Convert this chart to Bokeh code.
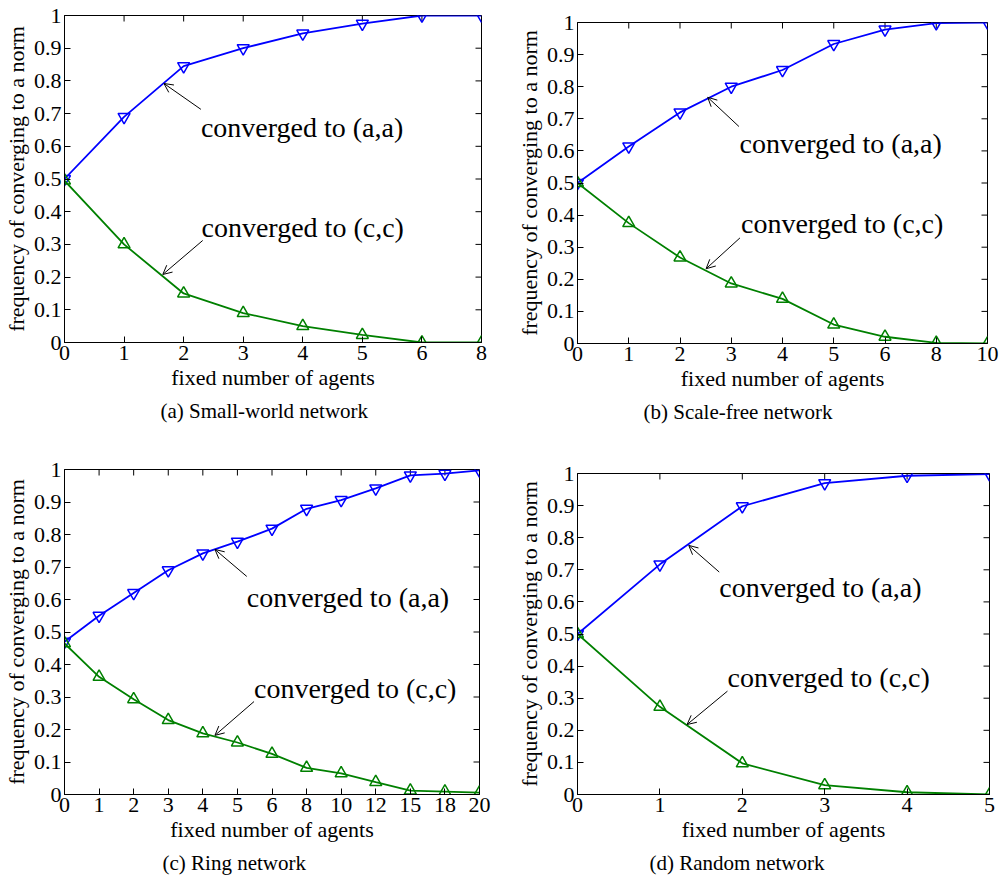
import math
from bokeh.plotting import figure
from bokeh.layouts import column, row
from bokeh.models import Range1d, FixedTicker, Arrow, OpenHead, Label, Title
from bokeh.embed import file_html
from bokeh.resources import INLINE

# ---------------- data ----------------
agents_a = ["0", "1", "2", "3", "4", "5", "6", "8"]
aa_a = [0.50, 0.69, 0.845, 0.90, 0.945, 0.975, 1.0, 1.0]
cc_a = [0.495, 0.30, 0.15, 0.09, 0.05, 0.023, 0.0, 0.0]

agents_b = ["0", "1", "2", "3", "4", "5", "6", "8", "10"]
aa_b = [0.50, 0.614, 0.72, 0.80, 0.852, 0.933, 0.978, 0.998, 1.0]
cc_b = [0.50, 0.375, 0.268, 0.187, 0.139, 0.059, 0.021, 0.002, 0.0]

agents_c = ["0", "1", "2", "3", "4", "5", "6", "8", "10", "12", "15", "18", "20"]
aa_c = [0.47, 0.55, 0.62, 0.69, 0.742, 0.778, 0.818, 0.879, 0.906, 0.942, 0.982, 0.987, 0.997]
cc_c = [0.465, 0.362, 0.293, 0.229, 0.188, 0.16, 0.125, 0.082, 0.065, 0.038, 0.012, 0.009, 0.006]

agents_d = ["0", "1", "2", "3", "4", "5"]
aa_d = [0.50, 0.717, 0.898, 0.97, 0.993, 0.998]
cc_d = [0.50, 0.273, 0.097, 0.029, 0.007, 0.0]

captions = ["(a) Small-world network", "(b) Scale-free network",
            "(c) Ring network", "(d) Random network"]

y_ticks = [0, 0.1, 0.2, 0.3, 0.4, 0.5, 0.6, 0.7, 0.8, 0.9, 1]
y_tick_labels = ["0", "0.1", "0.2", "0.3", "0.4", "0.5", "0.6", "0.7", "0.8", "0.9", "1"]

label_aa = "converged to (a,a)"
label_cc = "converged to (c,c)"

# annotation anchors in data units: (text x, text y, arrow tail x, tail y, head x, head y)
ann_aa = [(2.29, 0.657, 2.29, 0.713, 1.67, 0.792),
          (3.16, 0.623, 3.15, 0.676, 2.54, 0.767),
          (5.27, 0.607, 5.27, 0.671, 4.35, 0.754),
          (1.72, 0.644, 1.72, 0.693, 1.35, 0.776)]
ann_cc = [(2.30, 0.352, 2.32, 0.312, 1.65, 0.208),
          (3.19, 0.373, 3.17, 0.329, 2.51, 0.233),
          (5.48, 0.325, 5.48, 0.286, 4.35, 0.182),
          (1.82, 0.365, 1.82, 0.322, 1.33, 0.218)]

# ---------------- styling ----------------
FONT = "Liberation Serif"
BLUE = "#0000ff"
GREEN = "#008000"
TICK_LEN = 6

# width, height, border left, right, top, bottom, caption offset
layout_specs = [
    (500, 450, 62, 19, 15, 108, 96),
    (504, 450, 77, 17, 22, 107, 66),
    (500, 431, 62, 21, 19, 87, 98),
    (504, 431, 77, 15, 23, 87, 72),
]


def style_axis(ax, ticks, labels):
    ax.ticker = FixedTicker(ticks=ticks)
    ax.axis_line_color = "black"
    ax.axis_line_width = 1
    ax.major_tick_in = TICK_LEN
    ax.major_tick_out = 0
    ax.minor_tick_in = 0
    ax.minor_tick_out = 0
    ax.major_tick_line_color = "black"
    ax.minor_tick_line_color = None
    ax.major_label_overrides = {t: l for t, l in zip(ticks, labels)}
    ax.major_label_text_font = FONT
    ax.major_label_text_font_size = "22px"
    ax.major_label_text_color = "black"
    ax.major_label_standoff = 3


def make_panel(agents, aa, cc, caption, spec, a_aa, a_cc):
    w, h, bl, br, bt, bb, cap_off = spec
    n = len(agents)
    xs = list(range(n))
    p = figure(width=w, height=h, output_backend="svg", toolbar_location=None,
               title=None,
               x_range=Range1d(0, n - 1), y_range=Range1d(0, 1),
               min_border_left=bl, min_border_right=br,
               min_border_top=bt, min_border_bottom=bb)
    p.background_fill_color = "white"
    p.border_fill_color = "white"
    p.outline_line_color = "black"
    p.outline_line_width = 1
    p.grid.visible = False

    style_axis(p.xaxis[0], xs, agents)
    style_axis(p.yaxis[0], y_ticks, y_tick_labels)
    p.xaxis[0].axis_label = "fixed number of agents"
    p.yaxis[0].axis_label = "frequency of converging to a norm"
    for ax in (p.xaxis[0], p.yaxis[0]):
        ax.axis_label_text_font = FONT
        ax.axis_label_text_font_size = "22px"
        ax.axis_label_text_font_style = "normal"
        ax.axis_label_text_color = "black"
        ax.axis_label_standoff = 2

    # inward tick marks on the top and right sides of the box (MATLAB style)
    p.ray(x=xs, y=[1] * n, length=TICK_LEN, length_units="screen",
          angle=-math.pi / 2, line_color="black", line_width=1)
    p.ray(x=[n - 1] * len(y_ticks), y=y_ticks, length=TICK_LEN, length_units="screen",
          angle=math.pi, line_color="black", line_width=1)

    p.line(xs, aa, color=BLUE, line_width=1.8)
    p.scatter(xs, aa, marker="inverted_triangle", size=12, line_color=BLUE,
              fill_color=None, line_width=1.5)
    p.line(xs, cc, color=GREEN, line_width=1.8)
    p.scatter(xs, cc, marker="triangle", size=12, line_color=GREEN,
              fill_color=None, line_width=1.5)

    for (tx, ty, x0, y0, x1, y1), txt in ((a_aa, label_aa), (a_cc, label_cc)):
        p.add_layout(Arrow(end=OpenHead(size=9, line_width=1, line_color="black"),
                           x_start=x0, y_start=y0, x_end=x1, y_end=y1,
                           line_width=1, line_color="black"))
        p.add_layout(Label(x=tx, y=ty, text=txt, text_font=FONT,
                           text_font_size="28px", text_baseline="middle",
                           text_align="left", text_color="black"))

    p.add_layout(Title(text=caption, align="left", offset=cap_off,
                       text_font=FONT, text_font_size="21px",
                       text_font_style="normal", text_color="black",
                       standoff=8), "below")
    return p


pa = make_panel(agents_a, aa_a, cc_a, captions[0], layout_specs[0], ann_aa[0], ann_cc[0])
pb = make_panel(agents_b, aa_b, cc_b, captions[1], layout_specs[1], ann_aa[1], ann_cc[1])
pc = make_panel(agents_c, aa_c, cc_c, captions[2], layout_specs[2], ann_aa[2], ann_cc[2])
pd = make_panel(agents_d, aa_d, cc_d, captions[3], layout_specs[3], ann_aa[3], ann_cc[3])

# each figure wrapped on its own so that frames are not aligned across a row
page = column(row(column(pa), column(pb), spacing=0),
              row(column(pc), column(pd), spacing=0), spacing=0)

open("out.html", "w").write(file_html(page, INLINE))
